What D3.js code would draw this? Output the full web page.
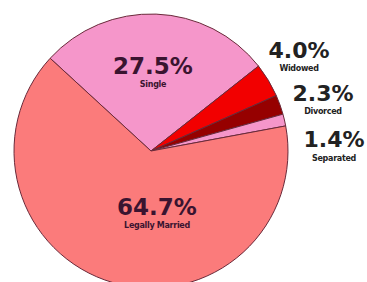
<!DOCTYPE html>
<html><head><meta charset="utf-8">
<script src="https://cdn.jsdelivr.net/npm/d3@7"></script>
<style>html,body{margin:0;padding:0;background:#fff;overflow:hidden}</style>
</head><body>
<svg id="c" width="367" height="282"></svg>
<script>
const categories = ["Single", "Widowed", "Divorced", "Separated", "Legally Married"];
const values = [27.5, 4.0, 2.3, 1.4, 64.7];
const labels = ["27.5%", "4.0%", "2.3%", "1.4%", "64.7%"];
const colors = ["#F596CA", "#F20000", "#960000", "#F596CA", "#FB7B7B"];

const svg = d3.select("#c");
const cx = 151, cy = 151, r = 137;
const g = svg.append("g").attr("transform", `translate(${cx},${cy})`);

const pie = d3.pie().sort(null).value(d => d)
  .startAngle(-47.4 * Math.PI / 180).endAngle(-47.4 * Math.PI / 180 + 2 * Math.PI);
const arcs = pie(values);
const arc = d3.arc().innerRadius(0).outerRadius(r);

g.selectAll("path").data(arcs).enter().append("path")
  .attr("d", arc)
  .attr("fill", (d, i) => colors[i])
  .attr("stroke", "#6a2a3a")
  .attr("stroke-width", 1);

// inside labels (Single, Married)
const inside = [
  {i: 0, x: 153, y: 74, sy: 87},
  {i: 4, x: 157, y: 215, sy: 228}
];
inside.forEach(o => {
  svg.append("text").attr("x", o.x).attr("y", o.y).attr("text-anchor", "middle")
    .attr("font-family", "DejaVu Sans").attr("font-weight", "bold").attr("font-size", 23)
    .attr("fill", "#3a1430").text(labels[o.i]);
  svg.append("text").attr("x", o.x).attr("y", o.sy).attr("text-anchor", "middle")
    .attr("font-family", "DejaVu Sans").attr("font-weight", "bold").attr("font-size", 8)
    .attr("fill", "#3a1430").attr("letter-spacing", -0.3).text(categories[o.i]);
});

// outside labels
const outside = [
  {i: 1, x: 299, y: 58, sy: 71},
  {i: 2, x: 323, y: 101, sy: 114},
  {i: 3, x: 334, y: 147, sy: 161}
];
outside.forEach(o => {
  svg.append("text").attr("x", o.x).attr("y", o.y).attr("text-anchor", "middle")
    .attr("font-family", "DejaVu Sans").attr("font-weight", "bold").attr("font-size", 22)
    .attr("fill", "#222").text(labels[o.i]);
  svg.append("text").attr("x", o.x).attr("y", o.sy).attr("text-anchor", "middle")
    .attr("font-family", "DejaVu Sans").attr("font-weight", "bold").attr("font-size", 8)
    .attr("fill", "#222").attr("letter-spacing", -0.3).text(categories[o.i]);
});
</script>
</body></html>
